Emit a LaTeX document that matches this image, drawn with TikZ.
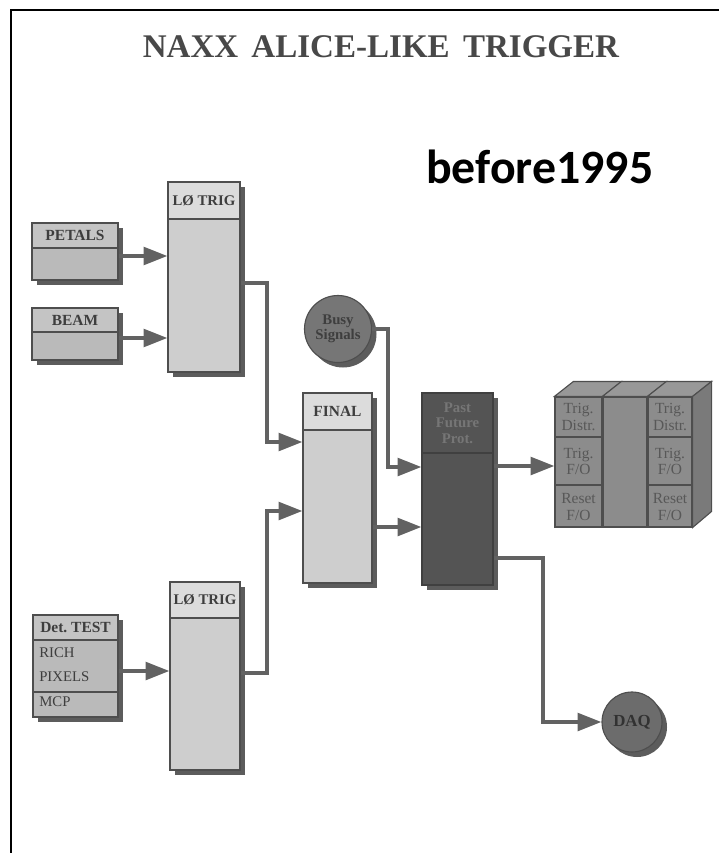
\documentclass[tikz,border=0pt]{standalone}
\usepackage{fontspec}
\setmainfont{Liberation Serif}
\newfontfamily\notefont{Carlito}
\usetikzlibrary{arrows.meta,shadows}

\definecolor{edgegray}{RGB}{78,78,78}
\definecolor{shadegray}{RGB}{92,92,92}
\definecolor{linkgray}{RGB}{98,98,98}
\definecolor{titlegray}{RGB}{72,72,72}
\definecolor{trigbody}{RGB}{206,206,206}
\definecolor{trighead}{RGB}{220,220,220}
\definecolor{srcbody}{RGB}{186,186,186}
\definecolor{srchead}{RGB}{196,196,196}
\definecolor{pastfill}{RGB}{84,84,84}
\definecolor{pasttext}{RGB}{118,118,118}
\definecolor{busyfill}{RGB}{118,118,118}
\definecolor{daqfill}{RGB}{108,108,108}
\definecolor{dimtext}{RGB}{62,62,62}
\definecolor{rackfront}{RGB}{140,140,140}
\definecolor{racktop}{RGB}{152,152,152}
\definecolor{rackside}{RGB}{122,122,122}
\definecolor{racktext}{RGB}{88,88,88}

\tikzset{
  px/.style 2 args={minimum width=#1*0.025cm, minimum height=#2*0.025cm},
  boxshade/.style={general shadow={fill=shadegray, shadow xshift=0.125cm, shadow yshift=-0.125cm}},
  trigbox/.style={draw=edgegray, line width=0.8pt, fill=trigbody, inner sep=0pt, boxshade},
  trigcap/.style={draw=edgegray, line width=0.8pt, fill=trighead, inner sep=0pt, anchor=north,
    text=dimtext, font=\bfseries\fontsize{10.5}{12}\selectfont},
  srcbox/.style={draw=edgegray, line width=0.8pt, fill=srcbody, inner sep=0pt, boxshade},
  srccap/.style={draw=edgegray, line width=0.8pt, fill=srchead, inner sep=0pt, anchor=north,
    text=dimtext, font=\bfseries\fontsize{11}{12}\selectfont},
  listtext/.style={anchor=west, inner sep=0pt, text=dimtext, font=\fontsize{10.5}{12}\selectfont},
  ball/.style={circle, draw=edgegray, line width=0.8pt, inner sep=0pt, align=center, boxshade},
  rackcol/.style={draw=edgegray, line width=0.8pt, fill=rackfront, inner sep=0pt},
  racklabel/.style={align=center, text=racktext, font=\fontsize{11}{11.4}\selectfont},
  link/.style={draw=linkgray, line width=2.8pt, -{Triangle[length=17pt,width=12.5pt]}}
}

\begin{document}
\begin{tikzpicture}[x=0.025cm, y=-0.025cm]
    \useasboundingbox (0,0) rectangle (719,853);
    \draw[line width=1.6pt] (719,10) -- (11,10) -- (11,853);

    \node[titlegray, font=\bfseries\fontsize{23.5}{26}\selectfont] (title) at (381,47)
        {NAXX\hspace{.4em}ALICE-LIKE\hspace{.4em}TRIGGER};
    \node[anchor=base west, inner sep=0pt, font=\notefont\bfseries\fontsize{34}{40}\selectfont]
        (era) at (426,184) {before1995};

    \node[srcbox, px={86}{57}] (petals) at (75,251.5) {};
    \node[srccap, px={86}{25}] (petalscap) at (petals.north) {PETALS};
    \node[srcbox, px={86}{52}] (beam) at (75,334) {};
    \node[srccap, px={86}{24}] (beamcap) at (beam.north) {BEAM};

    \node[srcbox, px={85}{102}] (dettest) at (75.5,666) {};
    \node[srccap, px={85}{25}] (dettestcap) at (dettest.north) {Det.\ TEST};
    \node[listtext] (rich) at (39,653) {RICH};
    \node[listtext] (pixels) at (39,677) {PIXELS};
    \draw[draw=edgegray, line width=0.8pt] (dettest.west |- 0,692) -- (dettest.east |- 0,692);
    \node[listtext] (mcp) at (39,702) {MCP};

    \node[trigbox, px={72}{190}] (ltrigA) at (204,277) {};
    \node[trigcap, px={72}{37}] (ltrigAcap) at (ltrigA.north) {LØ TRIG};
    \node[trigbox, px={70}{188}] (ltrigB) at (205,676) {};
    \node[trigcap, px={70}{36}] (ltrigBcap) at (ltrigB.north) {LØ TRIG};

    \node[trigbox, px={69}{190}] (final) at (337.5,488) {};
    \node[trigcap, px={69}{37}, font=\bfseries\fontsize{11}{12}\selectfont] (finalcap) at (final.north) {FINAL};

    \node[trigbox, px={71}{192}, fill=pastfill, draw=shadegray!70!black] (past) at (457.5,489) {};
    \node[trigcap, px={71}{60}, fill=pastfill, draw=shadegray!70!black, text=pasttext,
        align=center, font=\bfseries\fontsize{10.5}{11}\selectfont] (pastcap) at (past.north) {Past\\Future\\Prot.};

    \node[ball, fill=busyfill, minimum size=67*0.025cm, text=dimtext,
        font=\bfseries\fontsize{10.5}{11}\selectfont] (busy) at (338,329) {Busy\\Signals};
    \node[ball, fill=daqfill, minimum size=60*0.025cm, text=dimtext!80!black,
        font=\bfseries\fontsize{12}{13}\selectfont] (daq) at (632,722) {DAQ};

    \node[rackcol, px={47}{130}] (rackA) at (578.5,462) {};
    \node[rackcol, px={44}{130}] (rackB) at (625,462) {};
    \node[rackcol, px={44}{130}] (rackC) at (670,462) {};
    \foreach \col in {rackA,rackB,rackC}
        \filldraw[fill=racktop, draw=edgegray, line width=0.8pt]
            (\col.north west) -- ++(19,-15) -- ([shift={(19,-15)}]\col.north east)
            -- (\col.north east) -- cycle;
    \filldraw[fill=rackside, draw=edgegray, line width=0.8pt]
        (rackC.north east) -- ++(19,-15) -- ++(0,130) -- (rackC.south east) -- cycle;
    \foreach \col in {rackA,rackC} {
        \draw[edgegray, line width=0.8pt] (\col.west |- 0,437) -- (\col.east |- 0,437);
        \draw[edgegray, line width=0.8pt] (\col.west |- 0,485) -- (\col.east |- 0,485);
    }
    \node[racklabel] (distrA) at (578.5,417) {Trig.\\Distr.};
    \node[racklabel] (fanA) at (578.5,461) {Trig.\\F/O};
    \node[racklabel] (resetA) at (578.5,507) {Reset\\F/O};
    \node[racklabel] (distrC) at (670,417) {Trig.\\Distr.};
    \node[racklabel] (fanC) at (670,461) {Trig.\\F/O};
    \node[racklabel] (resetC) at (670,507) {Reset\\F/O};

    \draw[link] (petals.east |- 0,256) -- (ltrigA.west |- 0,256);
    \draw[link] (beam.east |- 0,338) -- (ltrigA.west |- 0,338);
    \draw[link] (ltrigA.east |- 0,283) -| (267,442) -- (final.west |- 0,442);
    \draw[link] (dettest.east |- 0,671) -- (ltrigB.west |- 0,671);
    \draw[link] (ltrigB.east |- 0,673) -| (267,511) -- (final.west |- 0,511);
    \draw[link] (busy.east) -| (388,467) -- (past.west |- 0,467);
    \draw[link] (final.east |- 0,527) -- (past.west |- 0,527);
    \draw[link] (past.east |- 0,466) -- (rackA.west |- 0,466);
    \draw[link] (past.east |- 0,558) -| (543,722) -- (daq.west);
\end{tikzpicture}
\end{document}
